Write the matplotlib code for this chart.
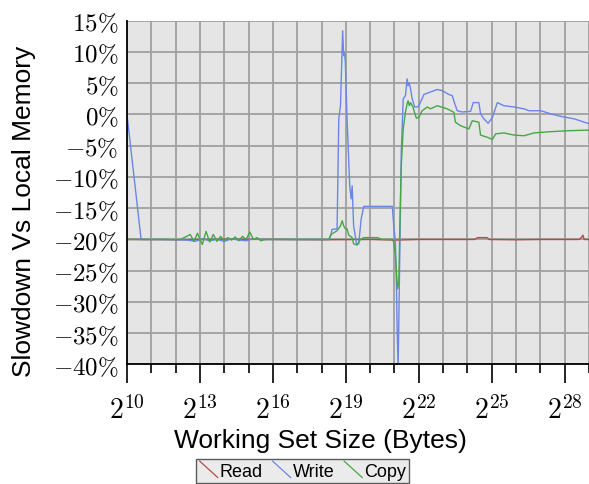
import numpy as np
import matplotlib
matplotlib.use('Agg')
import matplotlib.pyplot as plt
from matplotlib.legend_handler import HandlerBase
from matplotlib.lines import Line2D
from matplotlib.ticker import FixedLocator, FuncFormatter, NullFormatter

# working set size as log2(bytes), slowdown in %
read_x = [10.0, 12.5, 14.0, 16.0, 18.0, 20.0, 21.0, 22.0, 24.3, 24.42, 24.8, 24.9,
          26.0, 27.0, 28.6, 28.7, 28.75, 28.8, 29.04]
read_y = [-20, -20.05, -19.95, -20, -20.05, -20.0, -20.1, -20.0, -20.0, -19.7, -19.7, -20.0,
          -20.05, -20.0, -20.0, -19.6, -19.3, -20.0, -20.0]

write_x = [10.0, 10.58, 11.5, 12.5, 12.8, 13.1, 13.4, 13.7, 14.0, 14.3,
           14.6, 14.9, 15.2, 15.5, 16.5, 17.5, 18.3, 18.39, 18.43, 18.64,
           18.71, 18.78, 18.87, 18.91, 18.95, 18.98, 19.05, 19.16, 19.22, 19.26,
           19.32, 19.44, 19.53, 19.63, 19.74, 20.91, 20.97, 21.04, 21.08, 21.11,
           21.15, 21.18, 21.22, 21.28, 21.36, 21.45, 21.52, 21.56, 21.61, 21.66,
           21.73, 21.83, 21.96, 22.04, 22.21, 22.48, 22.76, 22.97, 23.24, 23.38,
           23.44, 23.58, 23.79, 24.13, 24.24, 24.47, 24.54, 24.68, 24.85, 25.03,
           25.23, 25.50, 25.92, 26.33, 26.53, 27.02, 27.43, 27.84, 28.39, 28.94,
           29.04]
write_y = [0, -20, -20, -20.1, -20.3, -19.9, -20.2, -20.0, -20.3, -19.9,
           -20.1, -20.2, -19.9, -20.0, -20, -20, -20, -19.2, -18.4, -18.3,
           -0.7, 1.4, 13.4, 9.4, 9.9, 8.3, -0.7, -11.4, -13.5, -11.4,
           -17.8, -20.7, -20.7, -16.7, -14.7, -14.7, -17.8, -20.4, -27.4, -34.3,
           -40.5, -32.7, -22, -6, 2.5, 3, 5.7, 4.6, 5.1, 4.1,
           2.5, 1.2, 1.2, 1.7, 3.2, 3.6, 4.0, 3.8, 3.2, 3.0,
           2.2, 0.6, 0.4, 0.5, 1.9, 1.9, 0.1, -0.7, -1.4, -0.45,
           1.9, 1.4, 1.2, 0.9, 0.6, 0.6, 0.1, -0.3, -0.7, -1.4,
           -1.5]

copy_x = [10.0, 12.0, 12.2, 12.4, 12.6, 12.75, 12.9, 13.0, 13.1, 13.25,
          13.4, 13.55, 13.7, 13.85, 14.0, 14.15, 14.3, 14.45, 14.6, 14.75,
          14.9, 15.05, 15.2, 15.35, 15.5, 15.7, 16.5, 17.5, 18.3, 18.39,
          18.64, 18.78, 18.85, 18.91, 18.98, 19.05, 19.12, 19.26, 19.32, 19.46,
          19.60, 19.74, 20.30, 20.50, 20.91, 20.97, 21.04, 21.08, 21.13, 21.18,
          21.22, 21.28, 21.36, 21.45, 21.52, 21.56, 21.61, 21.66, 21.76, 21.90,
          22.00, 22.14, 22.35, 22.48, 22.76, 23.17, 23.44, 23.51, 23.72, 24.06,
          24.20, 24.47, 24.54, 24.82, 25.03, 25.16, 25.50, 25.92, 26.33, 26.74,
          27.43, 28.12, 28.94, 29.04]
copy_y = [-20, -20, -20.0, -19.6, -19.2, -20.3, -19.0, -20.0, -20.8, -18.7,
          -20.4, -19.2, -20.3, -19.5, -20.2, -19.7, -20.1, -19.6, -20.2, -19.5,
          -20.0, -18.8, -20.0, -19.7, -20.2, -20, -20, -20, -20, -19.2,
          -18.6, -17.8, -17.0, -17.8, -18.3, -18.3, -19.3, -19.7, -20.7, -20.9,
          -20.0, -19.7, -19.7, -20.0, -20.0, -20.4, -22.6, -25.2, -27.9, -26.8,
          -17.8, -8.2, -2.3, 0.35, 1.7, 2.2, 1.4, 1.9, 1.2, -0.6,
          -0.45, 0.6, 1.2, 0.9, 1.4, 0.9, 0.35, -1.25, -1.8, -2.3,
          -1.0, -1.25, -3.3, -3.65, -4.0, -3.1, -2.95, -3.3, -3.4, -2.95,
          -2.75, -2.6, -2.5, -2.5]

y_ticks = [-40, -35, -30, -25, -20, -15, -10, -5, 0, 5, 10, 15]

plt.rcParams['font.family'] = ['Liberation Sans', 'DejaVu Sans']
plt.rcParams['mathtext.fontset'] = 'cm'


class DiagHandler(HandlerBase):
    # legend handle drawn as a short diagonal stroke
    def create_artists(self, legend, orig_handle, xdescent, ydescent,
                       width, height, fontsize, trans):
        x0, x1 = -xdescent, -xdescent + width
        y0, y1 = -ydescent - 0.15 * height, -ydescent + 1.15 * height
        ln = Line2D([x0, x1], [y1, y0], color=orig_handle.get_color(),
                    lw=0.9, transform=trans)
        return [ln]


fig = plt.figure(figsize=(5.89, 4.85), dpi=100)
ax = fig.add_axes([0.2156, 0.2464, 0.7844, 0.7088])
ax.set_facecolor('#e5e5e5')

l_read, = ax.plot(2.0 ** np.array(read_x), read_y, color='#b54a4a', lw=1.0, zorder=3)
l_write, = ax.plot(2.0 ** np.array(write_x), write_y, color='#6a86e8', lw=1.0, zorder=4)
l_copy, = ax.plot(2.0 ** np.array(copy_x), copy_y, color='#45a845', lw=1.0, zorder=5)

ax.set_xscale('log', base=2)
ax.set_xlim(2 ** 10, 2 ** 29)
ax.set_ylim(-40, 15)

ax.xaxis.set_major_locator(FixedLocator(2.0 ** np.arange(10, 29, 3)))
ax.xaxis.set_minor_locator(FixedLocator(2.0 ** np.arange(10, 30)))
ax.xaxis.set_major_formatter(FuncFormatter(lambda v, p: rf'$2^{{{int(round(np.log2(v)))}}}$'))
ax.xaxis.set_minor_formatter(NullFormatter())
ax.set_yticks(y_ticks)
ax.set_yticklabels([rf'${v}\%$' for v in y_ticks])

ax.tick_params(axis='x', which='major', direction='out', length=14, width=1.2,
               labelsize=20, pad=8)
ax.tick_params(axis='x', which='minor', direction='out', length=6.5, width=1.2)
ax.tick_params(axis='y', length=0, labelsize=18, pad=6)

ax.grid(which='both', axis='x', color='#a0a0a0', lw=1.3)
ax.grid(which='major', axis='y', color='#a0a0a0', lw=1.3)
ax.set_axisbelow(True)

for s in ['top', 'right']:
    ax.spines[s].set_visible(False)
for s in ['left', 'bottom']:
    ax.spines[s].set_linewidth(1.3)
    ax.spines[s].set_zorder(6)

ax.set_xlabel('Working Set Size (Bytes)', fontsize=19)
ax.xaxis.set_label_coords(0.418, -0.186)
ax.set_ylabel('Slowdown Vs Local Memory', fontsize=19)
ax.yaxis.set_label_coords(-0.196, 0.448)

leg = fig.legend([l_read, l_write, l_copy], ['Read', 'Write', 'Copy'],
                 handler_map={Line2D: DiagHandler()},
                 loc='upper center', bbox_to_anchor=(0.514, 1 - 460 / 485),
                 ncol=3, fontsize=13, frameon=True, fancybox=False,
                 handlelength=1.0, handletextpad=0.1, columnspacing=0.55,
                 borderpad=0.2, borderaxespad=0)
leg.get_frame().set_facecolor('#e6e6e6')
leg.get_frame().set_edgecolor('#333333')
leg.get_frame().set_linewidth(1.0)

fig.savefig('out.png', dpi=100)
